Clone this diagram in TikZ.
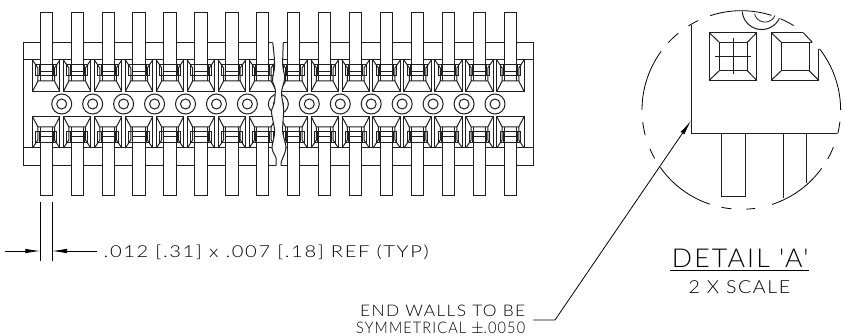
\documentclass[tikz,border=0pt]{standalone}
\usepackage{fontspec}
\usepackage{graphicx}
\usetikzlibrary{arrows.meta}
\newfontfamily\cad[UprightFont={* Light},LetterSpace=8]{Lato}
\definecolor{ink}{gray}{0.12}
\tikzset{
  part/.style={draw=ink,line width=1pt,line cap=butt,line join=miter},
  thin part/.style={draw=ink,line width=0.8pt},
  lead/.style={draw=black,line width=0.8pt},
  pinbody/.style={part,fill=white},
  label/.style={inner sep=0pt,anchor=base west,text=black},
  dimtip/.style={-{Latex[length=15pt,width=4.6pt]}}
}
\newcommand{\fit}[4]{\node[label,font=\cad\fontsize{#4}{#4}\selectfont] at #1 {\resizebox{#2pt}{\height}{#3}};}
\newcommand{\cellpart}{%
  \draw[part] (-13.7,-44) -- (-13.7,-12.5) -- (13.7,-12.5) -- (13.7,-44);
  \draw[part] (-13.7,-12.5) -- (-8.3,-23) -- (8.3,-23) -- (13.7,-12.5);
  \draw[part] (-13.7,-44) -- (-8.3,-36) -- (-8.3,-23);
  \draw[part] (13.7,-44) -- (8.3,-36) -- (8.3,-23);
}
\newcommand{\cellinner}{%
  \draw[part] (-10.3,-39) rectangle (10.3,-28);
  \draw[thin part] (-7,-39) -- (-7,-28) (7,-39) -- (7,-28);
  \draw[part] (-7,-32.3) -- (7,-32.3);
  \draw[part] (-6.1,-39) -- (-6.1,-23) (6.1,-39) -- (6.1,-23);
}
\newcommand{\pinpart}{\draw[pinbody] (-6.1,-39) -- (-6.1,-91.3) -- (6.1,-91.3) -- (6.1,-39);}
\newcommand{\connector}[1]{%
  \begin{scope}[shift={(#1,104)}]\cellpart\pinpart\cellinner\end{scope}
  \begin{scope}[shift={(#1,104)},yscale=-1]\cellpart\pinpart\cellinner\end{scope}
}
\def\leftbreak{(272.7,42.3) (274.7,65) (272.5,80) (275.3,90) (274,104) (271.5,112) (274.7,131.7) (272,148) (276,158) (276,165.7)}
\def\rightbreak{(283.3,42.3) (282.7,65) (284.7,78) (281.5,92) (283,104) (283.7,110) (282.7,131.7) (286,148) (281.3,161.7) (281.3,165.7)}
\begin{document}
\begin{tikzpicture}[x=1pt,y=-1pt]
\useasboundingbox (0,0) rectangle (846,336);
% left half of the body
\begin{scope}
  \clip plot[smooth] coordinates {\leftbreak} -- (276,200) -- (0,200) -- (0,0) -- (272.7,0) -- cycle;
  \draw[part] (272.7,42.3) -- (23.3,42.3) -- (23.3,165.7) -- (280,165.7);
  \draw[part] (23.3,60) -- (280,60) (23.3,148) -- (280,148);
  \foreach \i in {0,...,7} {\draw[part] ({61.7+30.95*\i},104) circle (10) circle (5);}
  \foreach \i in {0,...,7} {\pgfmathsetmacro{\cx}{46.2+30.95*\i}\connector{\cx}}
\end{scope}
\draw[part] plot[smooth] coordinates {\leftbreak};
% right half of the body
\begin{scope}
  \clip plot[smooth] coordinates {\rightbreak} -- (281.3,200) -- (600,200) -- (600,0) -- (283.3,0) -- cycle;
  \draw[part] (275,42.3) -- (533.7,42.3) -- (533.7,165.7) -- (275,165.7);
  \draw[part] (275,60) -- (533.7,60) (275,148) -- (533.7,148);
  \foreach \i in {7,...,14} {\draw[part] ({61.7+30.95*\i},104) circle (10) circle (5);}
  \foreach \i in {7,...,15} {\pgfmathsetmacro{\cx}{46.2+30.95*\i}\connector{\cx}}
\end{scope}
\draw[part] plot[smooth] coordinates {\rightbreak};
\draw[part] (533.7,60) -- (533.7,148);
% dimension
\coordinate (extLa) at (40.3,202.3);
\coordinate (extLb) at (40.3,260.7);
\coordinate (extRa) at (52,202.3);
\coordinate (extRb) at (52,260.7);
\coordinate (arrowLs) at (4.7,251);
\coordinate (arrowLe) at (40.3,251);
\coordinate (arrowRs) at (97.3,251);
\coordinate (arrowRe) at (52,251);
\draw[lead] (extLa) -- (extLb);
\draw[lead] (extRa) -- (extRb);
\draw[lead,dimtip] (arrowLs) -- (arrowLe);
\draw[lead,dimtip] (arrowRs) -- (arrowRe);
\fit{(103.5,257.7)}{325}{.012 [.31] x .007 [.18] REF (TYP)}{16.5}
% detail circle
\foreach \a/\b in {108.3/72.3,66.8/58.2,38/0,-6.8/-13.7,-22/-29.5,-36/-72,-82/-87,-95.6/-101.5,-108.5/-144.7,-150.8/-157,-165.3/-173,180/143.8,137.3/129.4,122.2/115.7} {
  \draw[lead] plot[domain=\a:\b,samples=40] ({741.3+99.3*cos(\x)},{110-99.3*sin(\x)});
}
% detail arcs at the top
\draw[part] plot[domain=185:335,samples=30] ({761.7+19.5*cos(\x+0)},{10+19.5*abs(sin(\x))});
\draw[thin part] plot[domain=190:340,samples=30] ({765+10.5*cos(\x)},{12+10*abs(sin(\x))});
% detail body
\draw[part] (691.7,25) -- (691.7,133.2) -- (836.7,133.2);
\draw[part] (721,133.2) -- (721,197) -- (745,197) -- (745,133.2);
\draw[part] (783,133.2) -- (783,198.5);
\draw[part] (806.7,133.2) -- (806.7,182.7);
% detail square 1
\draw[part] (709.3,32.7) rectangle (756.7,80.3);
\draw[part] (719.3,42.3) rectangle (747.3,70.7);
\draw[part] (709.3,32.7) -- (719.3,42.3) (756.7,32.7) -- (747.3,42.3) (709.3,80.3) -- (719.3,70.7) (756.7,80.3) -- (747.3,70.7);
\draw[part] (733,38.3) -- (733,74.3) (715,56.3) -- (751,56.3);
% detail square 2
\draw[part] (803.3,32.7) -- (771.3,32.7) -- (771.3,80.3) -- (818.7,80.3) -- (818.7,49.3);
\draw[part] (812.3,42.3) -- (781.3,42.3) -- (781.3,70.7) -- (809,70.7) -- (809,42.3);
\draw[part] (771.3,32.7) -- (781.3,42.3) (771.3,80.3) -- (781.3,70.7) (818.7,80.3) -- (809,70.7) (803.3,32.7) -- (812.3,42.3);
% leader
\coordinate (leadA) at (533.3,320);
\coordinate (leadB) at (555,320);
\coordinate (leadC) at (691,120.7);
\draw[lead,dimtip] (leadA) -- (leadB) -- (leadC);
% labels
\fit{(360,317)}{165}{END WALLS TO BE}{16}
\fit{(356,334)}{169}{SYMMETRICAL $\pm$.0050}{16}
\fit{(671.7,267.7)}{136.5}{DETAIL 'A'}{26}
\coordinate (ulA) at (670,270.7);
\coordinate (ulB) at (808.7,270.7);
\draw[lead] (ulA) -- (ulB);
\fit{(688.5,294)}{101.5}{2 X SCALE}{18}
\end{tikzpicture}
\end{document}
